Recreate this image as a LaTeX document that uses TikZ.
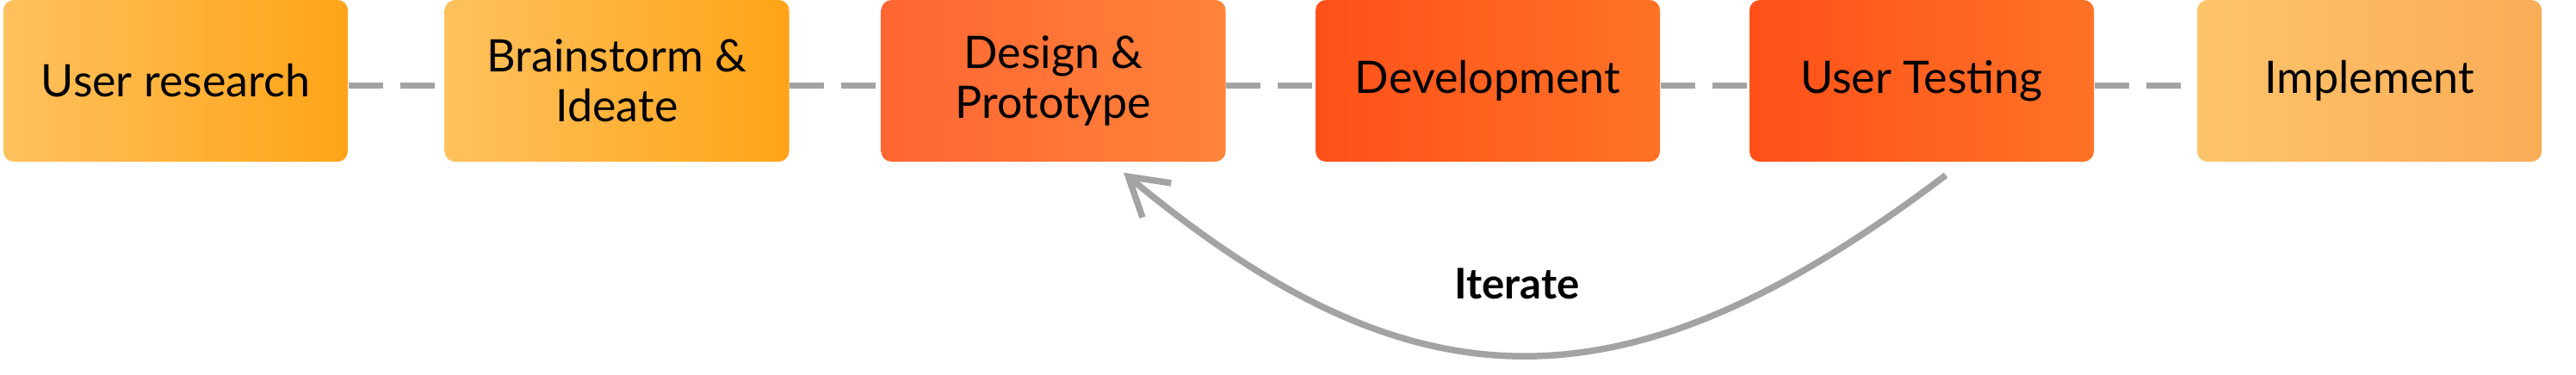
\documentclass[tikz,border=0pt]{standalone}
\usepackage{fontspec}
\setmainfont{Lato}
\usetikzlibrary{arrows.meta}

\definecolor{amberL}{HTML}{FFC15E}
\definecolor{amberR}{HTML}{FFA417}
\definecolor{coralL}{HTML}{FF6532}
\definecolor{coralR}{HTML}{FF843A}
\definecolor{flameL}{HTML}{FF5019}
\definecolor{flameR}{HTML}{FF7326}
\definecolor{sandL}{HTML}{FEC46A}
\definecolor{sandR}{HTML}{FAAC57}
\definecolor{linkgray}{HTML}{A3A3A3}

\begin{document}
\begin{tikzpicture}[
  stage/.style={rounded corners=0.12cm, minimum width=4cm, minimum height=1.88cm,
    inner sep=0pt, align=center, font=\fontsize{14.8}{16.5}\selectfont},
  link/.style={linkgray, line width=0.07cm, dash pattern=on 0.4cm off 0.2cm},
  iterarrow/.style={linkgray, line width=0.075cm,
    -{Straight Barb[sharp, length=0.43cm, width=0.52cm]}}
]
\useasboundingbox (0,0) rectangle (29.92,-4.36);

% stages
\node[stage, left color=amberL, right color=amberR] (research) at (2.04,-0.94) {User research};
\node[stage, left color=amberL, right color=amberR] (ideate) at (7.165,-0.94) {Brainstorm \&\\Ideate};
\node[stage, left color=coralL, right color=coralR] (design) at (12.235,-0.94) {Design \&\\Prototype};
\node[stage, left color=flameL, right color=flameR] (dev) at (17.28,-0.94) {Development};
\node[stage, left color=flameL, right color=flameR] (test) at (22.32,-0.94) {User Testing};
\node[stage, left color=sandL, right color=sandR] (impl) at (27.52,-0.94) {Implement};

\foreach \a/\b in {research/ideate, ideate/design, design/dev, dev/test, test/impl} {
    \draw[link] ([yshift=-0.06cm]\a.east) -- ([yshift=-0.06cm]\b.west);
  }

% loop back
\coordinate (itfrom) at ([xshift=0.28cm, yshift=-0.15cm]test.south);
\coordinate (itto) at ([xshift=0.815cm, yshift=-0.12cm]design.south);
\draw[iterarrow] (itfrom) .. controls +(-3.7,-2.8) and +(3.4,-2.83) .. (itto);
\node[font=\bfseries\fontsize{14}{16}\selectfont] (iterlabel) at (17.62,-3.30) {Iterate};

\end{tikzpicture}
\end{document}
